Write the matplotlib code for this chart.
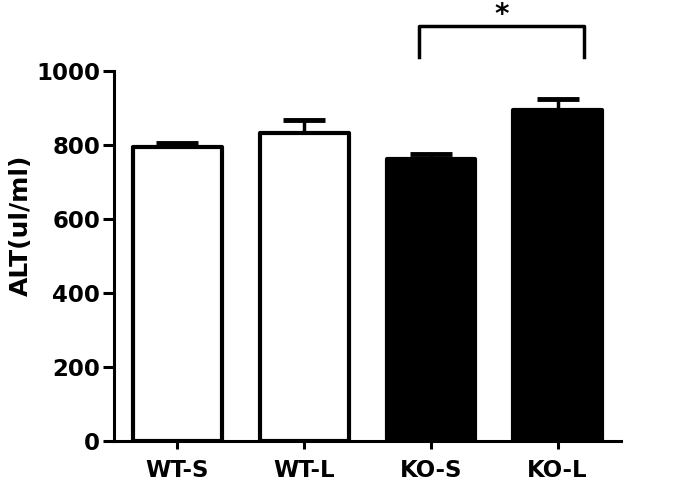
import numpy as np
import matplotlib.pyplot as plt

plt.rcParams['font.family'] = ['DejaVu Sans']
plt.rcParams['font.weight'] = 'bold'

groups = ['WT-S', 'WT-L', 'KO-S', 'KO-L']
alt_mean = [795, 832, 762, 895]
alt_sem = [12, 37, 13, 30]
bar_colors = ['white', 'white', 'black', 'black']

fig = plt.figure(figsize=(6.75, 4.84), dpi=100)
ax = fig.add_axes([0.169, 0.089, 0.751, 0.764])

x = np.arange(len(groups))
ax.errorbar(x, alt_mean, yerr=[[0] * 4, alt_sem], fmt='none', ecolor='black',
            elinewidth=2.5, capsize=15, capthick=3.5, zorder=1)
ax.bar(x, alt_mean, width=0.7, color=bar_colors, edgecolor='black',
       linewidth=3, joinstyle='round', zorder=2)

ax.set_xlim(-0.5, 3.5)
ax.set_ylim(0, 1000)
ax.set_yticks([0, 200, 400, 600, 800, 1000])
ax.set_xticks(x)
ax.set_xticklabels(groups)
ax.tick_params(axis='y', labelsize=16.5, width=2.2, length=8, pad=2)
ax.tick_params(axis='x', labelsize=16.5, width=2.2, length=6, pad=7)
for lab in ax.get_xticklabels() + ax.get_yticklabels():
    lab.set_fontweight('bold')
ax.set_ylabel('ALT(ul/ml)', fontsize=18, fontweight='bold')
ax.yaxis.set_label_coords(-0.16, 0.584)

for side in ['top', 'right']:
    ax.spines[side].set_visible(False)
for side in ['left', 'bottom']:
    ax.spines[side].set_linewidth(2.2)

# significance bracket between KO-S and KO-L
bx0, bx1 = 1.91, 3.21
ax.plot([bx0, bx0, bx1, bx1], [1038, 1122, 1122, 1038], color='black',
        lw=2.5, clip_on=False)
ax.text((bx0 + bx1) / 2, 1190, '*', ha='center', va='top', fontsize=20,
        fontweight='bold')

fig.savefig('out.png', dpi=100)
